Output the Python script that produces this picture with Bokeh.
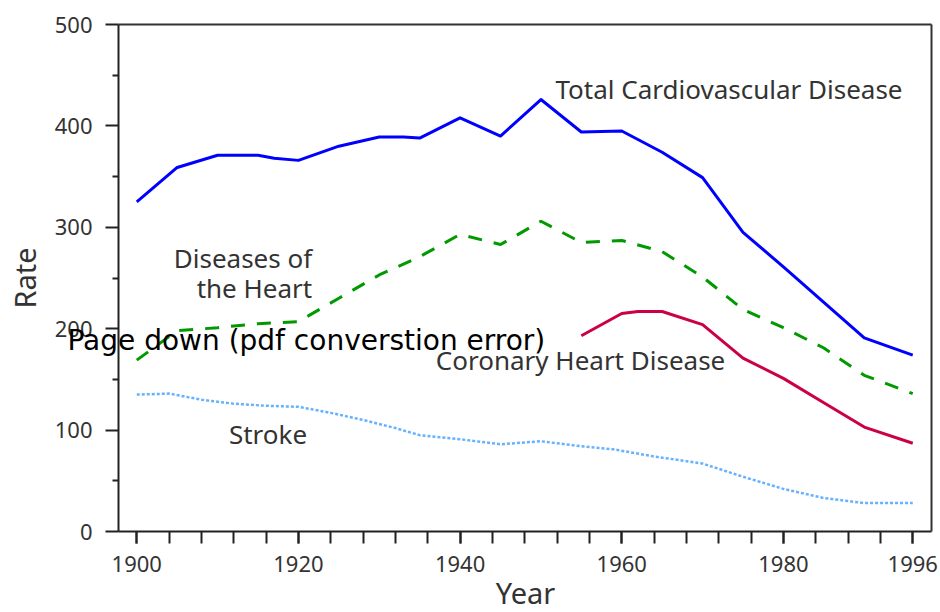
import math
from bokeh.plotting import figure
from bokeh.models import Range1d, FixedTicker, Label, LinearAxis
from bokeh.embed import file_html
from bokeh.resources import INLINE

# ---- data ----
years_cvd = [1900, 1905, 1910, 1915, 1917, 1920, 1925, 1930, 1933, 1935, 1940,
             1945, 1950, 1955, 1960, 1965, 1970, 1975, 1980, 1985, 1990, 1996]
cvd = [325, 359, 371, 371, 368, 366, 380, 389, 389, 388, 408,
       390, 426, 394, 395, 374, 349, 295, 261, 226, 191, 174]

years_heart = [1900, 1905, 1910, 1915, 1920, 1925, 1930, 1935, 1940, 1945,
               1950, 1955, 1960, 1965, 1970, 1975, 1980, 1985, 1990, 1996]
heart = [169, 198, 201, 205, 207, 230, 253, 271, 293, 283,
         306, 285, 287, 276, 251, 219, 201, 181, 154, 136]

years_chd = [1955, 1960, 1962, 1965, 1970, 1975, 1980, 1985, 1990, 1996]
chd = [193, 215, 217, 217, 204, 171, 151, 127, 103, 87]

years_stroke = [1900, 1904, 1908, 1912, 1916, 1920, 1924, 1928, 1932, 1935, 1940,
                1945, 1950, 1954, 1959, 1964, 1970, 1975, 1980, 1985, 1990, 1996]
stroke = [135, 136, 130, 126, 124, 123, 117, 110, 102, 95, 91,
          86, 89, 85, 81, 74, 67, 54, 42, 33, 28, 28]

x_major = [1900, 1920, 1940, 1960, 1980, 1996]
x_minor = list(range(1900, 1997, 4))
y_major = [0, 100, 200, 300, 400, 500]
y_minor = [50, 150, 250, 350, 450]

FONT = "Noto Sans"
TXT = "#333333"
AX = "#222222"

# ---- geometry: plot box inside a full-canvas frame ----
W, H = 940, 612
PX_L, PX_R, PX_T, PX_B = 118, 931, 24, 531
X0, X1 = 1897.74, 1998.32
Y0, Y1 = 0, 500
kx = (PX_R - PX_L) / (X1 - X0)
ky = (PX_B - PX_T) / (Y1 - Y0)
x_range = Range1d(X0 - PX_L / kx, X1 + (W - PX_R) / kx)
y_range = Range1d(Y0 - (H - PX_B) / ky, Y1 + PX_T / ky)

p = figure(width=W, height=H, output_backend="svg", toolbar_location=None,
           title=None, x_range=x_range, y_range=y_range,
           min_border=0, min_border_left=0, min_border_right=0,
           min_border_top=0, min_border_bottom=0)
p.grid.visible = False
p.outline_line_color = None
p.background_fill_color = "white"
p.border_fill_color = "white"

xa = p.xaxis[0]
xa.ticker = FixedTicker(ticks=x_major, minor_ticks=x_minor)
xa.fixed_location = Y0
xa.bounds = (X0, X1)
ya = p.yaxis[0]
ya.ticker = FixedTicker(ticks=y_major, minor_ticks=y_minor)
ya.fixed_location = X0
ya.bounds = (Y0, Y1)
for ax in (xa, ya):
    ax.axis_line_width = 2
    ax.axis_line_color = AX
    ax.major_tick_line_width = 2
    ax.minor_tick_line_width = 2
    ax.major_tick_line_color = AX
    ax.minor_tick_line_color = AX
    ax.major_tick_in = 0
    ax.minor_tick_in = 0
    ax.major_label_text_font = FONT
    ax.major_label_text_font_size = "22px"
    ax.major_label_text_color = TXT
xa.major_tick_out = 12
xa.minor_tick_out = 12
xa.major_label_standoff = 12
ya.major_tick_out = 13
ya.minor_tick_out = 6
ya.major_label_standoff = 13

# top and right frame lines as tick-less axes
top = LinearAxis(fixed_location=Y1, bounds=(X0, X1), ticker=FixedTicker(ticks=[]),
                 axis_line_width=2, axis_line_color="#333333",
                 major_tick_line_color=None, minor_tick_line_color=None,
                 major_label_text_font_size="0px")
right = LinearAxis(fixed_location=X1, bounds=(Y0, Y1), ticker=FixedTicker(ticks=[]),
                   axis_line_width=2, axis_line_color="#333333",
                   major_tick_line_color=None, minor_tick_line_color=None,
                   major_label_text_font_size="0px")
p.add_layout(top, "above")
p.add_layout(right, "right")

# ---- series ----
p.line(years_stroke, stroke, line_color="#66b2ff", line_width=2.5, line_dash="3 2")
p.line(years_heart, heart, line_color="#009900", line_width=3, line_dash="14 12")
p.line(years_chd, chd, line_color="#cc0044", line_width=3, line_join="round")
p.line(years_cvd, cvd, line_color="#0000ff", line_width=3, line_join="round")

# ---- text labels ----
def lab(x, y, t, align="left", size="26px", font=FONT, color=TXT, angle=0.0):
    p.add_layout(Label(x=x, y=y, text=t, text_font=font, text_font_size=size,
                       text_color=color, text_align=align, angle=angle,
                       text_baseline="alphabetic"))

lab(1951.8, 436.4, "Total Cardiovascular Disease")
lab(1921.7, 269.7, "Diseases of", align="right")
lab(1921.7, 240.1, "the Heart", align="right")
lab(1911.4, 96.2, "Stroke")
lab(1937.0, 169.1, "Coronary Heart Disease")
lab(1948.1, -60.0, "Year", align="center", size="29px")
lab(1886.15, 250.0, "Rate", align="center", size="29px", angle=math.pi / 2)
lab(1891.43, 188.1, "Page down (pdf converstion error)", size="28px",
    font="DejaVu Sans", color="#000000")

open("out.html", "w").write(file_html(p, INLINE))
